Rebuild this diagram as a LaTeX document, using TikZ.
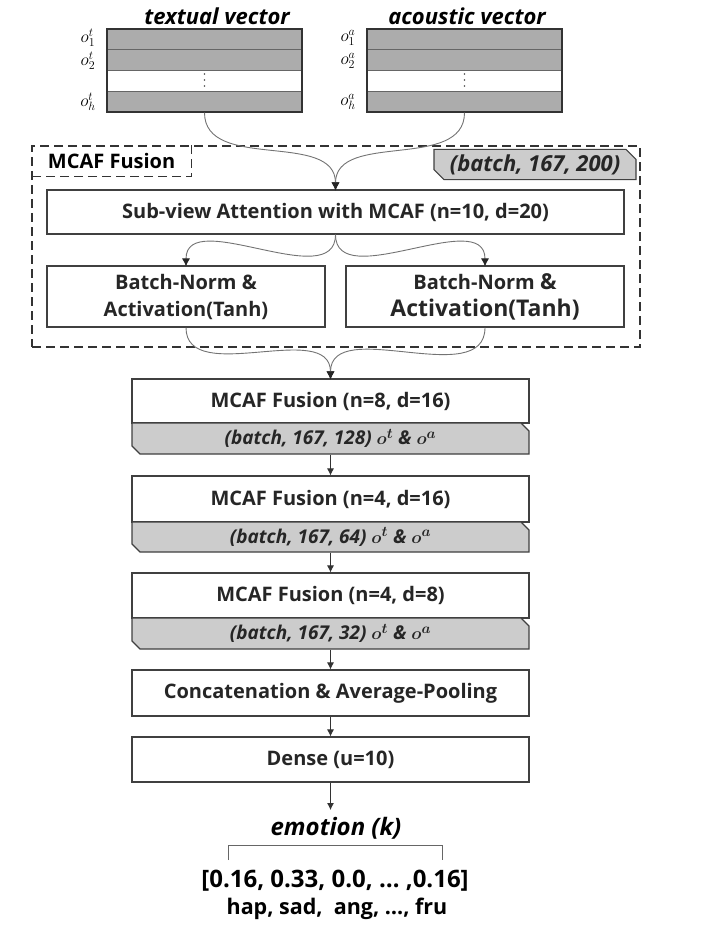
\documentclass[tikz,border=0pt]{standalone}
\usepackage{fontspec}
\setmainfont{Open Sans}
\usepackage{bm}
\usetikzlibrary{shapes.misc,positioning,arrows.meta}

\begin{document}
\begin{tikzpicture}[x=1pt,y=-1pt,
  boxstyle/.style={rectangle,draw=black!75,line width=1.1pt,fill=white,minimum width=#1,minimum height=45pt,inner sep=0pt,align=center,text=black!85,font=\fontsize{20}{27}\selectfont\bfseries},
  tagstyle/.style={chamfered rectangle,chamfered rectangle corners={north east,south west},chamfered rectangle sep=4pt,draw=black!75,line width=1.1pt,fill=gray!40,minimum width=#1,minimum height=30pt,inner sep=0pt,text=black!85,font=\fontsize{19}{22}\selectfont\bfseries\itshape},
  rowstyle/.style={draw=black!60,line width=0.8pt},
  rowlabel/.style={inner sep=0pt,font=\fontsize{18}{18}\selectfont},
  vecstyle/.style={rectangle,draw=black!80,line width=1.3pt,minimum width=195pt,minimum height=83pt,inner sep=0pt},
  dashstyle/.style={draw=black!80,line width=1.2pt,dash pattern=on 9pt off 5pt},
  curvestyle/.style={draw=black!55,line width=0.9pt,-{Latex[length=8pt,width=8pt,color=black!85]},shorten >=-1pt},
  arrowstyle/.style={draw=black!80,line width=0.8pt,-{Latex[length=7pt,width=7pt]}}
]
\useasboundingbox (0,0) rectangle (726,944);

% input vectors
\foreach \vx/\vn in {107/t,367/a} {
  \foreach \rc [count=\i] in {gray!65,gray!65,white,gray!65}
    \draw[rowstyle,fill=\rc] (\vx,{29+20.75*(\i-1)}) rectangle ++(195,20.75);
  \node[rowlabel] at (\vx-19,38) {$o_1^\vn$};
  \node[rowlabel] at (\vx-19,61) {$o_2^\vn$};
  \node[rowlabel] at (\vx-19,102) {$o_h^\vn$};
  \foreach \dy in {74,80,86}
    \fill[black!70] (\vx+97.5,\dy) circle (0.9pt);
}
\node[vecstyle] (text vec) at (204.5,70.5) { } ;
\node[vecstyle] (audio vec) at (464.5,70.5) { } ;
\node[font=\fontsize{22}{24}\selectfont\bfseries\itshape] (text title) at (217,16) {textual vector} ;
\node[font=\fontsize{22}{24}\selectfont\bfseries\itshape] (audio title) at (467,16) {acoustic vector} ;

% MCAF fusion block
\node[rectangle,dashstyle,minimum width=608pt,minimum height=201pt] (fusion box) at (336,246.5) { } ;
\node[rectangle,minimum width=160pt,minimum height=31pt,anchor=north west,font=\fontsize{20}{22}\selectfont\bfseries] (fusion label) at (fusion box.north west) {MCAF Fusion} ;
\draw[dashstyle] (fusion label.north east) -- (fusion label.south east) -- (fusion label.south west) ;
\node[tagstyle=202pt,minimum height=29pt,chamfered rectangle sep=5pt,font=\fontsize{22}{24}\selectfont\bfseries\itshape] (input shape) at (535,164.5) {(batch, 167, 200)} ;
\node[boxstyle=577pt,minimum height=44pt] (sub view) at (335.5,212) {Sub-view Attention with MCAF (n=10, d=20)} ;
\node[boxstyle=278pt,minimum height=61pt] (norm left) at (186,296.5) {Batch-Norm \&\\Activation(Tanh)} ;
\node[boxstyle=278pt,minimum height=61pt] (norm right) at (485,296.5) {Batch-Norm {\fontsize{22}{27}\selectfont\&}\\{\fontsize{23}{27}\selectfont Activation(Tanh)}} ;

\draw[curvestyle] (text vec.south) to[out=-90,in=90] (sub view.north) ;
\draw[curvestyle] (audio vec.south) to[out=-90,in=90] (sub view.north) ;
\draw[curvestyle] (sub view.south) to[out=-90,in=90] (norm left.north) ;
\draw[curvestyle] (sub view.south) to[out=-90,in=90] (norm right.north) ;

% stacked fusion layers
\node[boxstyle=397pt,minimum height=44pt] (fusion1) at (330.5,401) {MCAF Fusion (n=8, d=16)} ;
\node[tagstyle=397pt,minimum height=31pt] (shape1) at (330.5,438.5) {(batch, 167, 128) $\bm{o^t}$ \& $\bm{o^a}$} ;
\node[boxstyle=397pt,minimum height=46pt] (fusion2) at (330.5,499) {MCAF Fusion (n=4, d=16)} ;
\node[tagstyle=397pt,minimum height=30pt] (shape2) at (330.5,537) {(batch, 167, 64) $\bm{o^t}$ \& $\bm{o^a}$} ;
\node[boxstyle=397pt,minimum height=45pt] (fusion3) at (330.5,595.5) {MCAF Fusion (n=4, d=8)} ;
\node[tagstyle=397pt,minimum height=31pt] (shape3) at (330.5,633.5) {(batch, 167, 32) $\bm{o^t}$ \& $\bm{o^a}$} ;
\node[boxstyle=397pt,minimum height=46pt] (concat) at (330.5,693) {Concatenation \& Average-Pooling} ;
\node[boxstyle=397pt,minimum height=45pt] (dense) at (330.5,759.5) {Dense (u=10)} ;

\draw[curvestyle] (norm left.south) to[out=-90,in=90] (fusion1.north) ;
\draw[curvestyle] (norm right.south) to[out=-90,in=90] (fusion1.north) ;
\foreach \a/\b in {shape1/fusion2,shape2/fusion3,shape3/concat,concat/dense}
  \draw[arrowstyle] (\a.south) -- (\b.north) ;

% output
\node[inner sep=0pt,font=\fontsize{24}{26}\selectfont\bfseries\itshape] (emotion) at (336,828) {emotion (k)} ;
\coordinate (out tip) at (330.5,810) ;
\draw[arrowstyle] (dense.south) -- (out tip) ;
\draw[draw=black!60,line width=0.8pt] (228,860) -- (228,845) -- (442,845) -- (442,860) ;
\node[font=\fontsize{24}{26}\selectfont\bfseries] (scores) at (335,881) {[0.16, 0.33, 0.0, … ,0.16]} ;
\node[font=\fontsize{21.5}{24}\selectfont\bfseries] (classes) at (337,909) {hap, sad,\ \ ang, …, fru} ;

\end{tikzpicture}
\end{document}
